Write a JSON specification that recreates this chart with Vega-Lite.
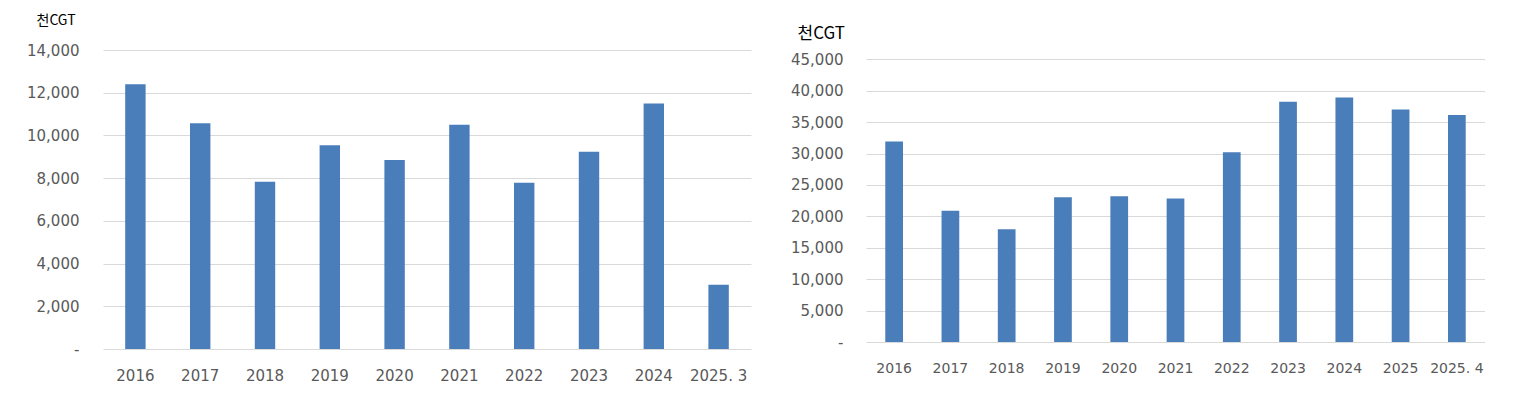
{
  "$schema": "https://vega.github.io/schema/vega-lite/v6.json",
  "background": "white",
  "padding": {"top": 13, "left": 26, "right": 0, "bottom": 0},
  "spacing": 39,
  "datasets": {
    "built": [
      {"year": "2016", "value": 12400},
      {"year": "2017", "value": 10570},
      {"year": "2018", "value": 7830},
      {"year": "2019", "value": 9540},
      {"year": "2020", "value": 8850},
      {"year": "2021", "value": 10500},
      {"year": "2022", "value": 7780},
      {"year": "2023", "value": 9230},
      {"year": "2024", "value": 11490},
      {"year": "2025. 3", "value": 3010}
    ],
    "backlog": [
      {"year": "2016", "value": 31900},
      {"year": "2017", "value": 20900},
      {"year": "2018", "value": 17950},
      {"year": "2019", "value": 23050},
      {"year": "2020", "value": 23200},
      {"year": "2021", "value": 22850},
      {"year": "2022", "value": 30200},
      {"year": "2023", "value": 38250},
      {"year": "2024", "value": 38900},
      {"year": "2025", "value": 37000},
      {"year": "2025. 4", "value": 36150}
    ]
  },
  "config": {
    "view": {"stroke": null},
    "axis": {
      "labelFont": "DejaVu Sans",
      "labelColor": "#595959",
      "labelFontSize": 15,
      "ticks": false,
      "domain": false,
      "gridColor": "#d9d9d9",
      "gridWidth": 1
    }
  },
  "hconcat": [
    {
      "width": 648,
      "height": 299,
      "data": {"name": "built"},
      "mark": {"type": "bar", "color": "#4a7ebb"},
      "encoding": {
        "x": {
          "field": "year", "type": "nominal", "sort": null,
          "scale": {"paddingInner": 0.685, "paddingOuter": 0.3425},
          "axis": {"title": null, "labelAngle": 0, "labelPadding": 19, "grid": false}
        },
        "y": {
          "field": "value", "type": "quantitative",
          "scale": {"domain": [0, 14000], "nice": false},
          "axis": {
            "values": [0, 2000, 4000, 6000, 8000, 10000, 12000, 14000],
            "labelExpr": "datum.value == 0 ? '-' : format(datum.value, ',')",
            "labelPadding": 24,
            "title": "천CGT",
            "titleAngle": 0,
            "titleFont": "Noto Sans CJK KR",
            "titleFontWeight": "normal",
            "titleFontSize": 14,
            "titleColor": "#000000",
            "titleAlign": "left",
            "titleBaseline": "middle",
            "titleX": -67,
            "titleY": -30
          }
        }
      }
    },
    {
      "width": 619,
      "height": 292,
      "data": {"name": "backlog"},
      "mark": {"type": "bar", "color": "#4a7ebb"},
      "encoding": {
        "x": {
          "field": "year", "type": "nominal", "sort": null,
          "scale": {"paddingInner": 0.685, "paddingOuter": 0.3425},
          "axis": {"title": null, "labelAngle": 0, "labelPadding": 19, "labelFontSize": 14, "grid": false}
        },
        "y": {
          "field": "value", "type": "quantitative",
          "scale": {"domain": [0, 45000], "nice": false, "range": [292, 9.3]},
          "axis": {
            "values": [0, 5000, 10000, 15000, 20000, 25000, 30000, 35000, 40000, 45000],
            "labelExpr": "datum.value == 0 ? '-' : format(datum.value, ',')",
            "labelPadding": 23,
            "title": "천CGT",
            "titleAngle": 0,
            "titleFont": "Noto Sans CJK KR",
            "titleFontWeight": "normal",
            "titleFontSize": 17,
            "titleColor": "#000000",
            "titleAlign": "left",
            "titleBaseline": "middle",
            "titleX": -69,
            "titleY": -17
          }
        }
      }
    }
  ]
}
